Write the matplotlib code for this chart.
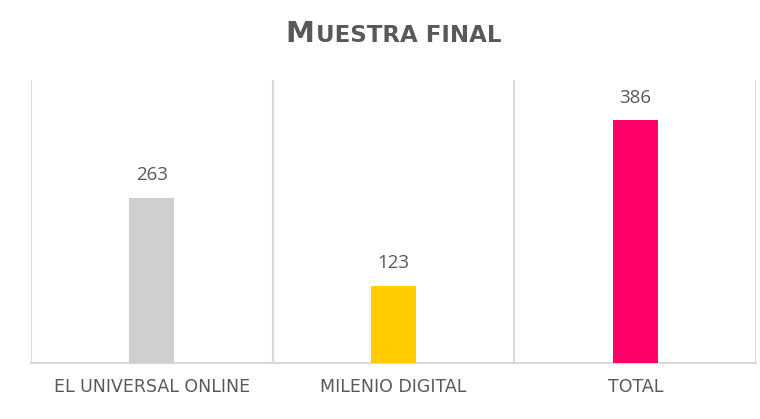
import matplotlib
matplotlib.use("Agg")
import matplotlib.pyplot as plt

# datos de la muestra
categorias = ["EL UNIVERSAL ONLINE", "MILENIO DIGITAL", "TOTAL"]
valores = [263, 123, 386]
colores = ["#D0CECE", "#FFCC00", "#FF0066"]

gris_texto = "#595959"
gris_linea = "#D9D9D9"

plt.rcParams['font.family'] = ['Open Sans', 'DejaVu Sans']

fig = plt.figure(figsize=(7.6, 4.19), dpi=100)
ax = fig.add_axes([0.0408, 0.1337, 0.954, 0.675])

x = list(range(len(categorias)))
barras = ax.bar(x, valores, width=0.186, color=colores, zorder=3)

# etiquetas de datos
for xi, v in zip(x, valores):
    ax.annotate(str(v), (xi, v), xytext=(0, 9.5), textcoords="offset points",
                ha="center", va="bottom", fontsize=13.5, color=gris_texto)

# lineas verticales entre categorias
for xl in [-0.5, 0.5, 1.5, 2.5]:
    ax.axvline(xl, color=gris_linea, linewidth=1.5, zorder=1)

ax.set_xlim(-0.5, 2.5)
ax.set_ylim(0, 450)
ax.set_yticks([])
ax.set_xticks(x)
ax.set_xticklabels(categorias, fontsize=12.5, color=gris_texto, family="DejaVu Sans")
ax.tick_params(axis="x", length=0, pad=11)
for s in ["top", "right", "left"]:
    ax.spines[s].set_visible(False)
ax.spines["bottom"].set_color(gris_linea)
ax.spines["bottom"].set_linewidth(1.5)

# titulo en versalitas
fig.canvas.draw()
r = fig.canvas.get_renderer()
t1 = fig.text(0, 0, "M", fontsize=21, fontweight="bold", color=gris_texto, family="DejaVu Sans")
t2 = fig.text(0, 0, "UESTRA FINAL", fontsize=16.5, fontweight="bold", color=gris_texto, family="DejaVu Sans")
w1 = t1.get_window_extent(r).width
w2 = t2.get_window_extent(r).width
cx = 393
yb = 419 - 42
x0 = cx - (w1 + w2) / 2
t1.set_position((x0 / 760, yb / 419))
t2.set_position(((x0 + w1 + 1) / 760, yb / 419))

fig.savefig("out.png", dpi=100)
